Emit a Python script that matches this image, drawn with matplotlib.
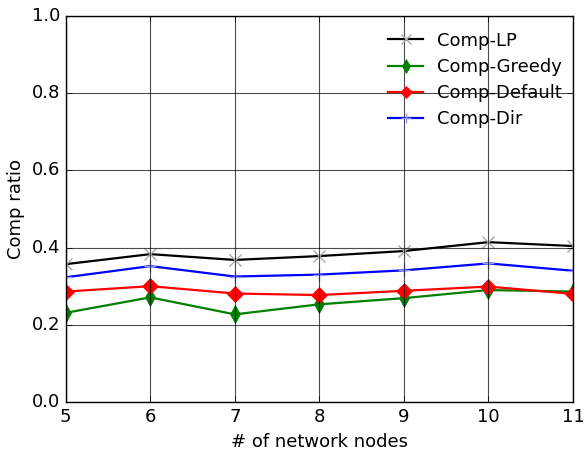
import matplotlib
matplotlib.use("Agg")
import matplotlib.pyplot as plt

nodes = [5, 6, 7, 8, 9, 10, 11]
comp_lp = [0.357, 0.383, 0.368, 0.378, 0.391, 0.414, 0.404]
comp_greedy = [0.231, 0.271, 0.227, 0.253, 0.269, 0.290, 0.286]
comp_default = [0.286, 0.300, 0.281, 0.277, 0.288, 0.299, 0.280]
comp_dir = [0.323, 0.352, 0.325, 0.330, 0.341, 0.359, 0.340]

plt.style.use('classic')
plt.rcParams['font.family'] = ['DejaVu Sans']
fig = plt.figure(figsize=(5.87, 4.54), dpi=100, facecolor='white')
ax = fig.add_axes([0.112, 0.1145, 0.864, 0.8505])

ax.plot(nodes, comp_lp, color='black', lw=1.6, marker='x', ms=9, mec='#aaaaaa', mew=1, label='Comp-LP')
ax.plot(nodes, comp_greedy, color='green', lw=1.6, marker='d', ms=9, mec='green', mfc='green', label='Comp-Greedy')
ax.plot(nodes, comp_default, color='red', lw=1.6, marker='D', ms=8, mec='red', mfc='red', label='Comp-Default')
ax.plot(nodes, comp_dir, color='blue', lw=1.6, marker='+', ms=9, mec='#9999ff', mew=1, label='Comp-Dir')

ax.set_xlim(5, 11)
ax.set_ylim(0, 1)
ax.set_yticks([0.0, 0.2, 0.4, 0.6, 0.8, 1.0])
ax.grid(True, color='black', linestyle='-', linewidth=0.8, alpha=0.7)
ax.set_xlabel('# of network nodes', fontsize=13)
ax.set_ylabel('Comp ratio', fontsize=13)
ax.tick_params(labelsize=13)
ax.legend(loc='upper right', bbox_to_anchor=(1.0, 0.987), frameon=False, fontsize=13, numpoints=1,
          handlelength=1.9, markerscale=0.75, borderaxespad=0.2, labelspacing=0.45)

fig.savefig('out.png', dpi=100, facecolor='white')
